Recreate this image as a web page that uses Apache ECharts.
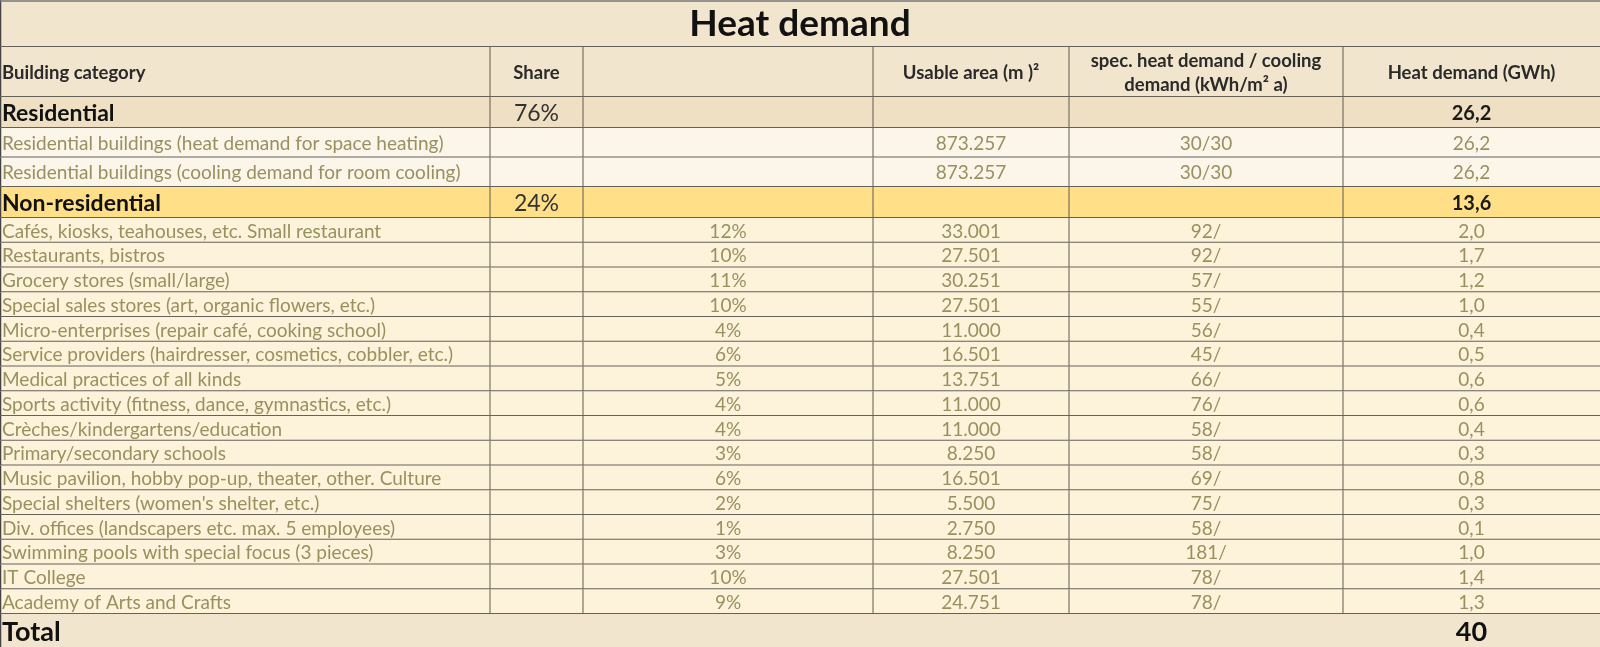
<!DOCTYPE html>
<html>
<head>
<meta charset="utf-8">
<script src="https://cdn.jsdelivr.net/npm/echarts@6/dist/echarts.min.js"></script>
<style>
html, body { margin: 0; padding: 0; background: #f2e5cd; }
#chart { width: 1600px; height: 647px; }
</style>
</head>
<body>
<div id="chart"></div>
<script>
// table content
const title = "Heat demand";
const headers = ["Building category", "Share", "", "Usable area (m )\u00b2", "spec. heat demand / cooling\ndemand (kWh/m\u00b2 a)", "Heat demand (GWh)"];

const groupNames = ["Residential", "Non-residential"];
const groupShares = ["76%", "24%"];
const groupHeat = ["26,2", "13,6"];

const resCategories = [
    "Residential buildings (heat demand for space heating)",
    "Residential buildings (cooling demand for room cooling)",
];
const resAreas = ["873.257", "873.257"];
const resSpec = ["30/30", "30/30"];
const resHeat = ["26,2", "26,2"];

const nonResCategories = [
    "Cafés, kiosks, teahouses, etc. Small restaurant",
    "Restaurants, bistros",
    "Grocery stores (small/large)",
    "Special sales stores (art, organic flowers, etc.)",
    "Micro-enterprises (repair café, cooking school)",
    "Service providers (hairdresser, cosmetics, cobbler, etc.)",
    "Medical practices of all kinds",
    "Sports activity (fitness, dance, gymnastics, etc.)",
    "Crèches/kindergartens/education",
    "Primary/secondary schools",
    "Music pavilion, hobby pop-up, theater, other. Culture",
    "Special shelters (women's shelter, etc.)",
    "Div. offices (landscapers etc. max. 5 employees)",
    "Swimming pools with special focus (3 pieces)",
    "IT College",
    "Academy of Arts and Crafts",
];
const nonResShares = ["12%", "10%", "11%", "10%", "4%", "6%", "5%", "4%", "4%", "3%", "6%", "2%", "1%", "3%", "10%", "9%"];
const nonResAreas = ["33.001", "27.501", "30.251", "27.501", "11.000", "16.501", "13.751", "11.000", "11.000", "8.250", "16.501", "5.500", "2.750", "8.250", "27.501", "24.751"];
const nonResSpec = ["92/", "92/", "57/", "55/", "56/", "45/", "66/", "76/", "58/", "58/", "69/", "75/", "58/", "181/", "78/", "78/"];
const nonResHeat = ["2,0", "1,7", "1,2", "1,0", "0,4", "0,5", "0,6", "0,6", "0,4", "0,3", "0,8", "0,3", "0,1", "1,0", "1,4", "1,3"];

const totalLabel = "Total";
const totalHeat = "40";

// layout (axis units = px of the 1600x647 canvas)
const colEdges = [0, 490, 583, 873, 1069, 1343, 1600];
const rowHeight = { title: 47, header: 50, resGroup: 31, resSub: 29.5, nonGroup: 31, nonSub: 24.75, total: 34 };
const FONT = "Lato, 'Open Sans', sans-serif";
const SUB_COLOR = "#999060";

const styles = {
    title:    { bg: "#f2e5cd" },
    header:   { bg: "#f2e5cd" },
    resGroup: { bg: "#efdfc3" },
    resSub:   { bg: "#fbf5ea" },
    nonGroup: { bg: "#ffdf88" },
    nonSub:   { bg: "#fdf2da" },
    total:    { bg: "#f2e5cd" },
};

// build rows from the arrays
const rows = [];
rows.push({ kind: "title", cells: [title] });
rows.push({ kind: "header", cells: headers });
rows.push({ kind: "resGroup", cells: [groupNames[0], groupShares[0], "", "", "", groupHeat[0]] });
resCategories.forEach((c, i) => rows.push({ kind: "resSub", cells: [c, "", "", resAreas[i], resSpec[i], resHeat[i]] }));
rows.push({ kind: "nonGroup", cells: [groupNames[1], groupShares[1], "", "", "", groupHeat[1]] });
nonResCategories.forEach((c, i) => rows.push({ kind: "nonSub", cells: [c, "", nonResShares[i], nonResAreas[i], nonResSpec[i], nonResHeat[i]] }));
rows.push({ kind: "total", cells: [totalLabel, "", "", "", "", totalHeat] });

let yCursor = 0;
rows.forEach((r) => {
    r.y0 = yCursor;
    yCursor += rowHeight[r.kind];
    r.y1 = yCursor;
});

function cellFont(kind, col) {
    if (kind === "title") return { font: "bold 37px " + FONT, fill: "#111" };
    if (kind === "header") return { font: "bold 18.5px " + FONT, fill: "#2a2a2a" };
    if (kind === "resGroup" || kind === "nonGroup") {
        if (col === 0) return { font: "bold 23px " + FONT, fill: "#111" };
        if (col === 1) return { font: "23px " + FONT, fill: "#333" };
        return { font: "bold 20px " + FONT, fill: "#1a1a1a" };
    }
    if (kind === "total") return { font: "bold 27px " + FONT, fill: "#111" };
    return { font: "19px " + FONT, fill: SUB_COLOR };
}

function renderRow(params, api) {
    const r = rows[api.value(0)];
    const top = api.coord([0, r.y0])[1];
    const bottom = api.coord([0, r.y1])[1];
    const xs = colEdges.map((e) => api.coord([e, 0])[0]);
    const mid = (top + bottom) / 2;
    const children = [];

    children.push({
        type: "rect",
        shape: { x: xs[0], y: top, width: xs[6] - xs[0], height: bottom - top },
        style: { fill: styles[r.kind].bg },
    });

    if (r.kind === "title") {
        children.push({
            type: "text",
            style: Object.assign({ text: r.cells[0], x: (xs[0] + xs[6]) / 2, y: mid + 1, align: "center", verticalAlign: "middle" }, cellFont(r.kind, 0)),
        });
    } else {
        r.cells.forEach((txt, c) => {
            if (!txt) return;
            const left = c === 0;
            const f = cellFont(r.kind, c);
            children.push({
                type: "text",
                style: Object.assign({
                    text: txt,
                    x: left ? xs[0] + 2 : (xs[c] + xs[c + 1]) / 2,
                    y: mid + 1,
                    align: left ? "left" : "center",
                    verticalAlign: "middle",
                    lineHeight: 24,
                }, f),
            });
        });
    }

    // grid lines
    const lineStyle = { stroke: "#5f5c50", lineWidth: 1 };
    if (r.kind !== "title" && r.kind !== "total") {
        colEdges.slice(1, 6).forEach((e, k) => {
            const x = xs[k + 1];
            children.push({ type: "line", shape: { x1: x, y1: top, x2: x, y2: bottom }, style: lineStyle });
        });
    }
    children.push({ type: "line", shape: { x1: xs[0] + 0.5, y1: top, x2: xs[0] + 0.5, y2: bottom }, style: { stroke: "#444", lineWidth: 1.5 } });
    if (r.kind !== "total") {
        children.push({ type: "line", shape: { x1: xs[0], y1: bottom, x2: xs[6], y2: bottom }, style: { stroke: "#66625a", lineWidth: 2 } });
    }
    if (r.kind === "title") {
        children.push({ type: "line", shape: { x1: xs[0], y1: top + 1, x2: xs[6], y2: top + 1 }, style: { stroke: "#777", lineWidth: 1.5 } });
    }
    return { type: "group", children: children };
}

const chart = echarts.init(document.getElementById("chart"));
chart.setOption({
    animation: false,
    backgroundColor: "#f2e5cd",
    grid: { left: 0, right: 0, top: 0, bottom: 0 },
    xAxis: { type: "value", min: 0, max: 1600, show: false },
    yAxis: { type: "value", min: 0, max: 647, inverse: true, show: false },
    series: [
        {
            type: "custom",
            renderItem: renderRow,
            data: rows.map((r, i) => [i, r.y0, r.y1]),
            encode: { x: -1, y: [1, 2] },
            silent: true,
        },
    ],
});
</script>
</body>
</html>
